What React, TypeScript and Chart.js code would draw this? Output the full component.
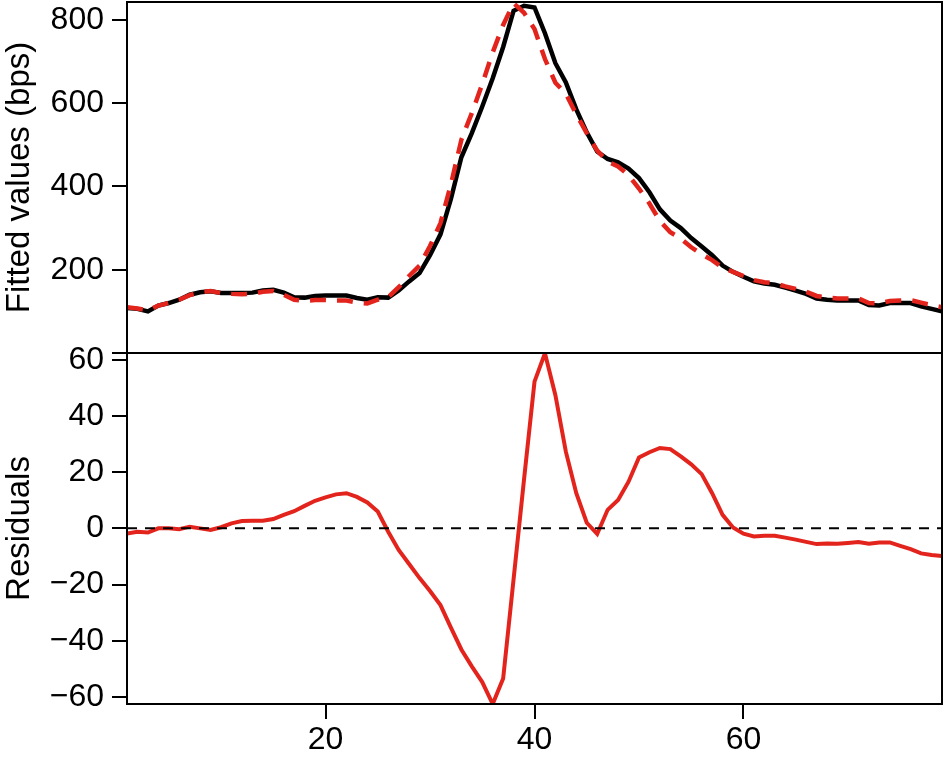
import React, { useEffect, useRef } from "react";
import { Chart, registerables } from "chart.js";

Chart.register(...registerables);

// x positions (sample index)
const xValues: number[] = Array.from({ length: 79 }, (_, i) => i + 1);

// observed values (black solid), bps
const observed: number[] = [
  108, 106, 100, 114, 120, 128, 140, 146, 148, 144,
  144, 144, 145, 150, 152, 145, 134, 133, 137, 138,
  138, 138, 132, 128, 134, 133, 150, 172, 192, 235,
  285, 370, 470, 528, 592, 660, 735, 822, 834, 830,
  768, 696, 650, 585, 530, 484, 466, 458, 443, 420,
  386, 345, 318, 300, 276, 256, 235, 210, 195, 183,
  172, 167, 164, 157, 150, 142, 131, 128, 126, 126,
  126, 115, 114, 120, 120, 120, 112, 106, 100,
];

// fitted values (red dashed), bps
const fitted: number[] = [
  110, 107, 102, 114, 120, 128, 139, 146, 149, 144,
  142, 141, 142, 147, 149, 140, 128, 125, 127, 127,
  126, 126, 121, 119, 128, 134, 158, 185, 210, 257,
  312, 405, 512, 576, 646, 722, 788, 840, 817, 778,
  706, 649, 623, 573, 528, 486, 460, 448, 427, 395,
  359, 317, 290, 275, 254, 237, 223, 205, 195, 185,
  175, 170, 167, 160, 154, 147, 137, 133, 131, 131,
  131, 120, 119, 125, 126, 127, 121, 115, 110,
];

// residuals (red solid, lower panel)
const residuals: number[] = [
  -1.8, -1.2, -1.5, 0, 0, -0.3, 0.6, 0, -0.6, 0.4,
  1.8, 2.6, 2.7, 2.7, 3.3, 4.8, 6.1, 8.0, 9.8, 11.0,
  12.1, 12.5, 11.2, 9.2, 6.0, -1.2, -7.7, -12.7, -17.7, -22.3,
  -27.3, -35.3, -43.1, -49.1, -54.7, -62.5, -53.4, -18, 17.5, 52.2,
  62.3, 47.4, 27.3, 12.5, 2, -2, 6.6, 10.1, 16.6, 25.2,
  27.1, 28.6, 28.2, 25.6, 22.8, 19.3, 12.5, 4.8, 0.3, -1.9,
  -2.9, -2.6, -2.6, -3.3, -4.0, -4.8, -5.6, -5.4, -5.5, -5.2,
  -4.9, -5.5, -5.0, -5.0, -6.2, -7.4, -8.9, -9.5, -9.8,
];

// reference line at zero
const zeroLine: number[] = [0, 0];
const zeroLineX: number[] = [1, 79];

const xTicks: number[] = [20, 40, 60];
const fitTicks: number[] = [0, 200, 400, 600, 800];
const resTicks: number[] = [-60, -40, -20, 0, 20, 40, 60];

const xRange = [1, 79];
const fitRange = [0, 843];
const resRange = [-62.5, 62.4];

const RED = "#E3241D";
const FONT = "'Liberation Sans', Arial, Helvetica, sans-serif";
const FS = 32;
const FS_TITLE = 33;

const framePlugin = {
  id: "panelFrames",
  afterDraw(chart: any) {
    const { ctx, chartArea } = chart;
    ctx.save();
    ctx.strokeStyle = "#000";
    ctx.lineWidth = 2;
    for (const id of ["yFit", "yRes"]) {
      const s = chart.scales[id];
      ctx.strokeRect(chartArea.left, s.top, chartArea.right - chartArea.left, s.bottom - s.top);
    }
    ctx.restore();
  },
};

const noPadY = (s: any) => {
  s.width = 127;
  s.paddingTop = 0;
  s.paddingBottom = 0;
};

export default function App() {
  const ref = useRef<HTMLCanvasElement | null>(null);

  useEffect(() => {
    const canvas = ref.current;
    if (!canvas) return;
    const toPts = (ys: number[], xs: number[]) => ys.map((y, i) => ({ x: xs[i], y }));

    const tickGrid = {
      drawOnChartArea: false,
      drawTicks: true,
      tickLength: 15,
      color: "#000",
      lineWidth: 2,
    };

    const chart = new Chart(canvas, {
      type: "line",
      data: {
        datasets: [
          {
            label: "Fitted",
            data: toPts(fitted, xValues),
            xAxisID: "x",
            yAxisID: "yFit",
            borderColor: RED,
            borderWidth: 4.5,
            borderDash: [16, 11],
            pointRadius: 0,
            fill: false,
            tension: 0,
          },
          {
            label: "Observed",
            data: toPts(observed, xValues),
            xAxisID: "x",
            yAxisID: "yFit",
            borderColor: "#000",
            borderWidth: 4.5,
            pointRadius: 0,
            fill: false,
            tension: 0,
          },
          {
            label: "Zero",
            data: toPts(zeroLine, zeroLineX),
            xAxisID: "x",
            yAxisID: "yRes",
            borderColor: "#000",
            borderWidth: 2,
            borderDash: [10, 8],
            pointRadius: 0,
            fill: false,
          },
          {
            label: "Residuals",
            data: toPts(residuals, xValues),
            xAxisID: "x",
            yAxisID: "yRes",
            borderColor: RED,
            borderWidth: 4,
            pointRadius: 0,
            fill: false,
            tension: 0,
          },
        ],
      },
      options: {
        animation: false,
        responsive: false,
        layout: { padding: { left: 0, right: 2, top: 2, bottom: 0 } },
        plugins: { legend: { display: false }, tooltip: { enabled: false } },
        scales: {
          x: {
            type: "linear",
            position: "bottom",
            min: xRange[0],
            max: xRange[1],
            grid: tickGrid,
            border: { display: true, color: "#000", width: 2 },
            afterBuildTicks: (s: any) => {
              s.ticks = xTicks.map((v) => ({ value: v }));
            },
            afterFit: (s: any) => {
              s.height = 57;
              s.paddingLeft = 0;
              s.paddingRight = 0;
            },
            ticks: {
              autoSkip: false,
              maxRotation: 0,
              padding: 2,
              color: "#000",
              font: { size: FS, family: FONT },
              callback: (v: any) => String(v),
            },
          },
          yRes: {
            type: "linear",
            position: "left",
            stack: "panels",
            stackWeight: 1,
            min: resRange[0],
            max: resRange[1],
            grid: tickGrid,
            border: { display: true, color: "#000", width: 2 },
            afterBuildTicks: (s: any) => {
              s.ticks = resTicks.map((v) => ({ value: v }));
            },
            afterFit: noPadY,
            title: {
              display: true,
              text: "Residuals",
              color: "#000",
              font: { size: FS_TITLE, family: FONT },
              padding: { top: 0, bottom: 0 },
            },
            ticks: {
              autoSkip: false,
              padding: 8,
              color: "#000",
              font: { size: FS, family: FONT },
              callback: (v: any) => (v < 0 ? "\u2212" + Math.abs(v) : String(v)),
            },
          },
          yFit: {
            type: "linear",
            position: "left",
            stack: "panels",
            stackWeight: 1,
            min: fitRange[0],
            max: fitRange[1],
            grid: tickGrid,
            border: { display: true, color: "#000", width: 2 },
            afterBuildTicks: (s: any) => {
              s.ticks = fitTicks.map((v) => ({ value: v }));
            },
            afterFit: noPadY,
            title: {
              display: true,
              text: "Fitted values (bps)",
              color: "#000",
              font: { size: FS_TITLE, family: FONT },
              padding: { top: 0, bottom: 0 },
            },
            ticks: {
              autoSkip: false,
              padding: 8,
              color: "#000",
              font: { size: FS, family: FONT },
              callback: (v: any) => (v === 0 ? "" : String(v)),
            },
          },
        },
      },
      plugins: [framePlugin],
    });

    return () => chart.destroy();
  }, []);

  return (
    <div style={{ position: "absolute", left: 0, top: 0, width: 944, height: 761, background: "#fff" }}>
      <canvas ref={ref} width={944} height={761} style={{ display: "block" }} />
    </div>
  );
}
